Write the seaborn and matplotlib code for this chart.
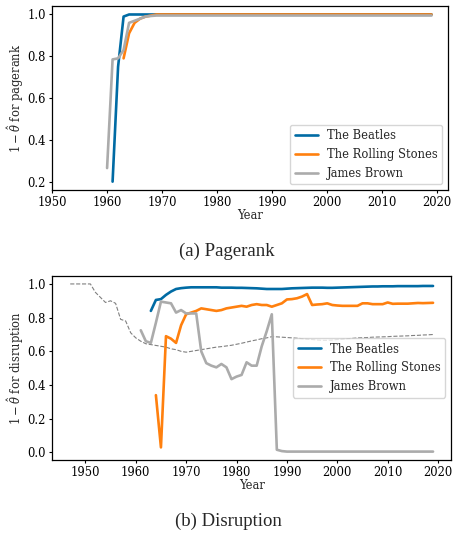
import numpy as np
import pandas as pd
import matplotlib
matplotlib.use("Agg")
import matplotlib.pyplot as plt
import seaborn as sns

# --- dados ---
anos_pr_beatles = list(range(1961, 2020))
pr_beatles = [0.20, 0.75, 0.99] + [1.0] * 56

anos_pr_stones = list(range(1963, 2020))
pr_stones = [0.79, 0.91, 0.96, 0.98, 0.99, 0.995] + [1.0] * 51

anos_pr_brown = list(range(1960, 2020))
pr_brown = [0.265, 0.785, 0.79, 0.83, 0.96, 0.97, 0.98, 0.99, 0.993] + [0.995] * 51

anos_dis_beatles = list(range(1963, 2020))
dis_beatles = [0.84, 0.905, 0.91, 0.935, 0.955, 0.97, 0.975, 0.978, 0.98, 0.98,
               0.98, 0.98, 0.98, 0.98, 0.978, 0.978, 0.978, 0.977, 0.977, 0.976,
               0.975, 0.974, 0.972, 0.97, 0.97, 0.97, 0.97, 0.972, 0.974, 0.975,
               0.976, 0.977, 0.978, 0.978, 0.978, 0.977, 0.977, 0.978, 0.979, 0.98,
               0.981, 0.982, 0.983, 0.984, 0.985, 0.985, 0.986, 0.986, 0.986, 0.987,
               0.987, 0.987, 0.987, 0.987, 0.988, 0.988, 0.988]

anos_dis_stones = list(range(1964, 2020))
dis_stones = [0.34, 0.03, 0.69, 0.675, 0.65, 0.755, 0.82, 0.83, 0.84, 0.855,
              0.85, 0.845, 0.84, 0.845, 0.855, 0.86, 0.865, 0.87, 0.865, 0.875,
              0.88, 0.875, 0.875, 0.865, 0.875, 0.885, 0.908, 0.91, 0.915, 0.925,
              0.94, 0.875, 0.878, 0.88, 0.885, 0.875, 0.872, 0.87, 0.87, 0.87,
              0.87, 0.885, 0.885, 0.88, 0.88, 0.88, 0.89, 0.882, 0.883, 0.883,
              0.883, 0.885, 0.887, 0.886, 0.887, 0.888]

anos_dis_brown = list(range(1961, 2020))
dis_brown = [0.725, 0.66, 0.65, 0.77, 0.895, 0.89, 0.885, 0.83, 0.845, 0.825,
             0.825, 0.825, 0.60, 0.53, 0.515, 0.505, 0.525, 0.505, 0.435, 0.45,
             0.46, 0.535, 0.515, 0.515, 0.63, 0.72, 0.82, 0.016, 0.008] + [0.005] * 30

anos_media = list(range(1947, 2020))
dis_media = [1.0, 1.0, 1.0, 1.0, 1.0, 0.95, 0.92, 0.89, 0.90, 0.885,
             0.79, 0.78, 0.71, 0.68, 0.66, 0.645, 0.64, 0.635, 0.63, 0.625,
             0.615, 0.61, 0.60, 0.595, 0.60, 0.605, 0.61, 0.615, 0.62, 0.625,
             0.628, 0.632, 0.636, 0.642, 0.648, 0.655, 0.662, 0.668, 0.675, 0.68,
             0.687, 0.686, 0.684, 0.682, 0.68, 0.678, 0.675, 0.672, 0.67, 0.667,
             0.665, 0.665, 0.667, 0.67, 0.672, 0.675, 0.677, 0.68, 0.681, 0.682,
             0.684, 0.685, 0.686, 0.687, 0.689, 0.69, 0.691, 0.692, 0.694, 0.695,
             0.697, 0.698, 0.70]

artistas = ['The Beatles', 'The Rolling Stones', 'James Brown']
cores = ['#006BA4', '#FF800E', '#ABABAB']


def monta_df(series):
    partes = []
    for nome, anos, vals in series:
        partes.append(pd.DataFrame({'ano': anos, 'valor': vals, 'artista': nome}))
    return pd.concat(partes, ignore_index=True)


df_pr = monta_df(zip(artistas, [anos_pr_beatles, anos_pr_stones, anos_pr_brown],
                     [pr_beatles, pr_stones, pr_brown]))
df_dis = monta_df(zip(artistas, [anos_dis_beatles, anos_dis_stones, anos_dis_brown],
                      [dis_beatles, dis_stones, dis_brown]))
df_media = pd.DataFrame({'ano': anos_media, 'valor': dis_media})

sns.set_style('ticks')
plt.rcParams['font.family'] = ['DejaVu Serif']
plt.rcParams['mathtext.fontset'] = 'dejavuserif'
plt.rcParams['font.size'] = 8.3
plt.rcParams['axes.edgecolor'] = 'black'
plt.rcParams['xtick.color'] = 'black'
plt.rcParams['ytick.color'] = 'black'

fig = plt.figure(figsize=(4.53, 5.33), dpi=100)
ax1 = fig.add_axes([0.115, 0.6435, 0.874, 0.345])
ax2 = fig.add_axes([0.115, 0.137, 0.881, 0.346])

paleta = dict(zip(artistas, cores))

# --- Pagerank ---
sns.lineplot(data=df_pr, x='ano', y='valor', hue='artista', palette=paleta,
             hue_order=artistas, lw=1.9, ax=ax1)
ax1.set_xlim(1950, 2022)
ax1.set_xticks(range(1950, 2021, 10))
ax1.set_yticks([0.2, 0.4, 0.6, 0.8, 1.0])
ax1.set_xlabel('Year', labelpad=0)
ax1.set_ylabel(r'$1-\hat{\theta}$ for pagerank', labelpad=1)
ax1.legend(loc='lower right', title=None)

# --- Disruption ---
sns.lineplot(data=df_media, x='ano', y='valor', color='#808080', lw=0.8,
             linestyle='--', ax=ax2)
sns.lineplot(data=df_dis, x='ano', y='valor', hue='artista', palette=paleta,
             hue_order=artistas, lw=1.9, ax=ax2)
ax2.set_xticks(range(1950, 2021, 10))
ax2.set_yticks([0.0, 0.2, 0.4, 0.6, 0.8, 1.0])
ax2.set_xlabel('Year', labelpad=0)
ax2.set_ylabel(r'$1-\hat{\theta}$ for disruption', labelpad=1)
ax2.legend(loc='center right', title=None)

for ax in (ax1, ax2):
    ax.tick_params(length=2.5, width=0.8, pad=2)
    for s in ax.spines.values():
        s.set_linewidth(0.9)
        s.set_visible(True)

fig.text(0.5, 1 - 251.7 / 533, '(a) Pagerank', ha='center', va='center',
         family='Liberation Serif', fontsize=13.5)
fig.text(0.505, 1 - 521.7 / 533, '(b) Disruption', ha='center', va='center',
         family='Liberation Serif', fontsize=13.5)

fig.savefig('out.png', dpi=100)
